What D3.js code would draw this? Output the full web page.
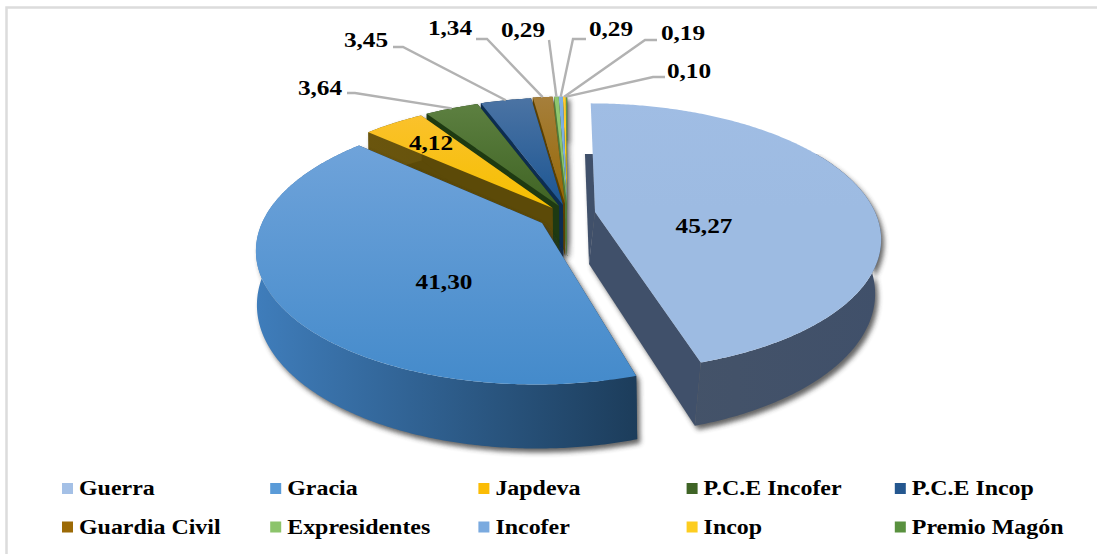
<!DOCTYPE html>
<html>
<head>
<meta charset="utf-8">
<script src="https://cdnjs.cloudflare.com/ajax/libs/d3/7.8.5/d3.min.js"></script>
<style>
  html, body { margin: 0; padding: 0; background: #fff; overflow: hidden; }
  text { font-family: "Liberation Serif", serif; font-weight: bold; fill: #000; }
</style>
</head>
<body>
<div id="chart-area"></div>
<script>
var categories = ["Guerra", "Gracia", "Japdeva", "P.C.E Incofer", "P.C.E Incop",
  "Guardia Civil", "Expresidentes", "Incofer", "Incop", "Premio Magón"];
var values = [45.27, 41.30, 4.12, 3.64, 3.45, 1.34, 0.29, 0.29, 0.19, 0.10];

// how far each slice is pulled out of the pie (excel style explosion)
var explodeX = [27, -26, -15.5, -9, -5, -3, -1, -1, -1, -1];
var explodeY = [4, 15, 0, -2, -3, -4, -4, -4, -4, -4];

var legendColors = ["#a4c0e6", "#5a9bd8", "#fbbc05", "#3f6426", "#24578f",
  "#9c6a06", "#8cc46b", "#7aaadf", "#fdcd20", "#59913f"];
var topFar = ["#a0bde4", "#6fa3da", "#fcc235", "#5f8243", "#4c74a4",
  "#a67f3c", "#8fc870", "#7fb0e2", "#ffcc30", "#5f9648"];
var topNear = ["#9dbbe2", "#458bcb", "#f5bf00", "#3f6323", "#1b5592",
  "#966803", "#8ac468", "#76a9de", "#fdc810", "#55903c"];
var wallLeft = ["#465468", "#3f7dbb", "#705a10", "#1e3a12", "#0d2d50",
  "#5c4000", "#4f7a3a", "#3f6c99", "#8c7000", "#325322"];
var wallRight = ["#40506a", "#1c3c5a", "#5c4a08", "#1e3a12", "#0d2d50",
  "#5c4000", "#4f7a3a", "#3f6c99", "#8c7000", "#325322"];

var labelText = ["45,27", "41,30", "4,12", "3,64", "3,45", "1,34", "0,29", "0,29", "0,19", "0,10"];
var labelX = [704, 444, 431, 320, 366, 450, 523, 611, 683, 689];
var labelY = [233, 289, 150, 95, 47, 35, 37, 36, 40, 78];
// elbow of the leader line, null where the label sits on the slice
var elbowA = [null, null, null, [347, 93], [393, 47], [476, 39], [549, 40], [586, 39], [657, 40], [665, 77]];
var elbowB = [null, null, null, [355, 93], [403, 47], [487, 39], [549, 40], [573, 39], [645, 40], [653, 77]];

var W = 1097, H = 554;
var svg = d3.select("#chart-area").append("svg")
  .attr("width", W)
  .attr("height", H);

var defs = svg.append("defs");
var blur = defs.append("filter").attr("id", "soft")
  .attr("x", "-10%").attr("y", "-10%").attr("width", "120%").attr("height", "125%");
blur.append("feGaussianBlur").attr("stdDeviation", 2.6);

// far part of the Guerra wall is not visible in the original
defs.append("clipPath").attr("id", "guerra-wall")
  .append("rect").attr("x", 0).attr("y", 154).attr("width", W).attr("height", H);

// frame, only top and left are visible
svg.append("path")
  .attr("d", "M6.5," + H + "V7.5H" + W)
  .attr("fill", "none")
  .attr("stroke", "#dcdcdc")
  .attr("stroke-width", 2.5);

// pie plane with a bit of perspective
var originX = 568, originY = 208;
var radiusX = 280, radiusY = 128.3, persp = 0.188, wallH = 52;
var wallShift = d3.scaleLinear().domain([-26, 0, 27]).range([1, 0, -6]);

var arcs = d3.pie().value(function(d) { return d; }).sort(null)(values);

function project(i, a) {
  var u = Math.sin(a), v = -Math.cos(a), w = 1 - persp * v;
  return [originX + (explodeX[i] + radiusX * u) / w, originY + (explodeY[i] + radiusY * v) / w];
}
function apex(i) {
  return [originX + explodeX[i], originY + explodeY[i]];
}
function down(i, a, p) {
  var w = 1 + persp * Math.cos(a);
  return [p[0] + wallShift(explodeX[i]), p[1] + wallH / w];
}
function rim(i) {
  var a0 = arcs[i].startAngle, a1 = arcs[i].endAngle;
  var n = Math.max(2, Math.ceil((a1 - a0) / 0.01));
  return d3.range(n + 1).map(function(k) { return a0 + (a1 - a0) * k / n; });
}

var line = d3.line();

function topPath(i) {
  return line([apex(i)].concat(rim(i).map(function(a) { return project(i, a); }))) + "Z";
}
function outerWall(i) {
  var angles = rim(i);
  var upper = angles.map(function(a) { return project(i, a); });
  var lower = angles.map(function(a) { return down(i, a, project(i, a)); }).reverse();
  return line(upper.concat(lower)) + "Z";
}
function cutFace(i, a) {
  var p = project(i, a), c = apex(i);
  return line([c, p, down(i, a, p), [c[0] + wallShift(explodeX[i]), c[1] + wallH]]) + "Z";
}

categories.forEach(function(c, i) {
  var gTop = defs.append("linearGradient").attr("id", "top" + i)
    .attr("gradientUnits", "userSpaceOnUse")
    .attr("x1", 0).attr("x2", 0).attr("y1", i === 1 ? 145 : 96).attr("y2", i === 1 ? 380 : 208);
  gTop.append("stop").attr("offset", 0).attr("stop-color", topFar[i]);
  gTop.append("stop").attr("offset", 1).attr("stop-color", topNear[i]);

  var gWall = defs.append("linearGradient").attr("id", "wall" + i)
    .attr("gradientUnits", "userSpaceOnUse")
    .attr("x1", i === 0 ? 590 : 256).attr("x2", i === 0 ? 881 : 640).attr("y1", 0).attr("y2", 0);
  gWall.append("stop").attr("offset", 0).attr("stop-color", wallLeft[i]);
  gWall.append("stop").attr("offset", 1).attr("stop-color", wallRight[i]);
});

function drawWalls(g, i, fill) {
  [arcs[i].startAngle, arcs[i].endAngle].forEach(function(a) {
    g.append("path").attr("d", cutFace(i, a)).attr("fill", fill || wallRight[i]);
  });
  g.append("path").attr("d", outerWall(i)).attr("fill", fill || "url(#wall" + i + ")");
}
function drawSlice(i) {
  var walls = svg.append("g");
  if (i === 0) walls.attr("clip-path", "url(#guerra-wall)");
  drawWalls(walls, i);
  svg.append("path").attr("d", topPath(i)).attr("fill", "url(#top" + i + ")");
}

// far slices first, then the two big ones on top
var backSlices = [9, 8, 7, 6, 5, 4, 3, 2];
var backShadow = svg.append("g").attr("filter", "url(#soft)")
  .attr("transform", "translate(3,3)").attr("opacity", 0.75);
backSlices.forEach(function(i) { drawWalls(backShadow, i, "#333"); });
backSlices.forEach(drawSlice);

[1, 0].forEach(function(i) {
  var holder = svg.append("g");
  if (i === 0) holder.attr("clip-path", "url(#guerra-wall)");
  var shadow = holder.append("g").attr("filter", "url(#soft)")
    .attr("transform", "translate(3,4)").attr("opacity", 0.75);
  drawWalls(shadow, i, "#333");
  drawSlice(i);
});

// leader lines
categories.forEach(function(c, i) {
  if (!elbowA[i]) return;
  var mid = (arcs[i].startAngle + arcs[i].endAngle) / 2;
  svg.append("path")
    .attr("d", line([elbowA[i], elbowB[i], project(i, mid)]))
    .attr("fill", "none")
    .attr("stroke", "#b2b2b2")
    .attr("stroke-width", 2.4);
});

// data labels
labelText.forEach(function(t, i) {
  svg.append("text")
    .attr("transform", "translate(" + labelX[i] + "," + labelY[i] + ") scale(1.15,1)")
    .attr("text-anchor", "middle")
    .attr("font-size", 22)
    .text(t);
});

// legend, two rows of five
var legendX = d3.scaleBand().domain(d3.range(5)).range([62, 1103]);
var legendY = d3.scaleBand().domain(d3.range(2)).range([469, 546]);

var legend = svg.selectAll(".legend-item")
  .data(categories)
  .enter()
  .append("g")
  .attr("class", "legend-item")
  .attr("transform", function(d, i) {
    return "translate(" + legendX(i % 5) + "," + legendY(Math.floor(i / 5)) + ")";
  });

legend.append("rect")
  .attr("x", 0)
  .attr("y", 14)
  .attr("width", 11)
  .attr("height", 11)
  .attr("fill", function(d, i) { return legendColors[i]; });

legend.append("text")
  .attr("transform", "translate(17,26) scale(1.14,1)")
  .attr("font-size", 21)
  .text(function(d) { return d; });
</script>
</body>
</html>
